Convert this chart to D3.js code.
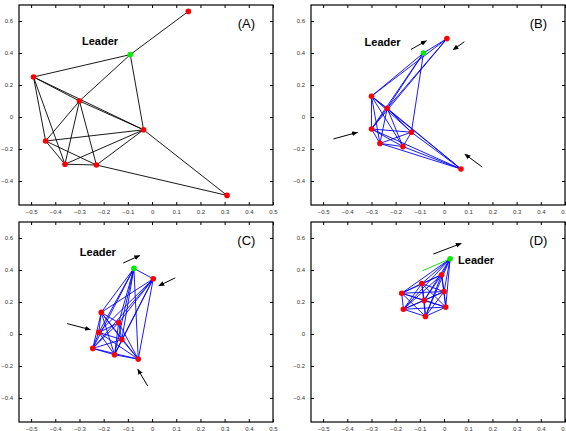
<!DOCTYPE html>
<meta charset="utf-8">
<head>
    <script type="text/javascript" src="https://cdn.jsdelivr.net/npm/d3@7/dist/d3.min.js"></script>
    <style>
        body { margin: 0; background: #fff; }
        svg { font-family: "Liberation Sans", Arial, Helvetica, sans-serif; }
        .tick text { fill: #333; font-size: 6px; }
    </style>
</head>
<body>
<div id="chart"></div>
<script>

    // node positions per panel, index 0 is the leader
    var nodesA = [[-0.09, 0.39], [0.15, 0.66], [-0.49, 0.25], [-0.30, 0.10], [-0.035, -0.08],
        [-0.44, -0.15], [-0.36, -0.295], [-0.23, -0.30], [0.31, -0.49]];
    var nodesB = [[-0.085, 0.40], [0.012, 0.49], [-0.30, 0.13], [-0.235, 0.055], [-0.30, -0.075],
        [-0.135, -0.095], [-0.265, -0.165], [-0.17, -0.185], [0.07, -0.325]];
    var nodesC = [[-0.075, 0.41], [0.005, 0.345], [-0.21, 0.135], [-0.138, 0.07], [-0.22, 0.01],
        [-0.125, -0.035], [-0.245, -0.09], [-0.155, -0.13], [-0.057, -0.157]];
    var nodesD = [[0.025, 0.47], [-0.01, 0.37], [-0.092, 0.315], [0, 0.265], [-0.175, 0.255],
        [-0.082, 0.21], [-0.168, 0.155], [0.007, 0.168], [-0.077, 0.11]];

    // edges (0 = leader)
    var edgesA = [[0, 1], [0, 3], [3, 5], [0, 2], [0, 4], [2, 3], [3, 4], [2, 4], [2, 5], [2, 6],
        [3, 6], [3, 7], [4, 5], [4, 6], [4, 7], [4, 8], [5, 6], [5, 7], [6, 7], [7, 8]];
    var edgesB = [[0, 1], [1, 2], [1, 3], [1, 4], [0, 2], [0, 3], [0, 4], [0, 5],
        [2, 3], [2, 4], [2, 5], [2, 6], [2, 7], [2, 8], [3, 4], [3, 5], [3, 6], [3, 7], [3, 8],
        [4, 5], [4, 6], [4, 7], [4, 8], [5, 6], [5, 7], [5, 8], [6, 7], [6, 8], [7, 8]];
    function allPairs(n) {
        var e = [];
        for (var i = 0; i < n; i++) for (var j = i + 1; j < n; j++) e.push([i, j]);
        return e;
    }
    var edgesC = allPairs(9);
    var edgesD = allPairs(9);

    // motion arrows [x1, y1, x2, y2]
    var arrowsA = [];
    var arrowsB = [[-0.137, 0.422, -0.073, 0.476], [0.084, 0.47, 0.037, 0.42],
        [-0.457, -0.137, -0.358, -0.096], [0.158, -0.313, 0.086, -0.232]];
    var arrowsC = [[-0.119, 0.444, -0.051, 0.49], [0.096, 0.351, 0.028, 0.301],
        [-0.351, 0.065, -0.255, 0.027], [-0.018, -0.325, -0.059, -0.22]];
    var arrowsD = [[-0.044, 0.50, 0.071, 0.566]];

    // leader trail in panel D
    var trailD = [[-0.09, 0.395], [0.025, 0.47]];

    var labels = ["(A)", "(B)", "(C)", "(D)"];
    var leaderPos = [[-0.215, 0.476, "middle"], [-0.254, 0.47, "middle"], [-0.224, 0.51, "middle"], [0.058, 0.459, "start"]];

    var xTicks = [-0.5, -0.4, -0.3, -0.2, -0.1, 0, 0.1, 0.2, 0.3, 0.4, 0.5];
    var yTicks = [-0.4, -0.2, 0, 0.2, 0.4, 0.6];

    var w = 566, h = 431;
    var svg = d3.select("#chart").append("svg").attr("width", w).attr("height", h);

    var panels = [
        {left: 19, top: 5, nodes: nodesA, edges: edgesA, arrows: arrowsA, color: "black", trail: null},
        {left: 311, top: 5, nodes: nodesB, edges: edgesB, arrows: arrowsB, color: "blue", trail: null},
        {left: 19, top: 222, nodes: nodesC, edges: edgesC, arrows: arrowsC, color: "blue", trail: null},
        {left: 311, top: 222, nodes: nodesD, edges: edgesD, arrows: arrowsD, color: "blue", trail: trailD}
    ];
    var pw = 254, ph = 200;

    svg.append("defs").append("marker")
        .attr("id", "ah").attr("viewBox", "0 0 10 10")
        .attr("refX", 9).attr("refY", 5)
        .attr("markerWidth", 6).attr("markerHeight", 6)
        .attr("orient", "auto")
        .append("path").attr("d", "M0,1 L10,5 L0,9 Z").attr("fill", "black");

    panels.forEach(function (p, k) {
        var g = svg.append("g").attr("transform", "translate(" + p.left + "," + p.top + ")");
        var x = d3.scaleLinear().domain([-0.55, 0.5]).range([0, pw]);
        var y = d3.scaleLinear().domain([-0.55, 0.7]).range([ph, 0]);

        // axes, MATLAB style box with inward ticks
        g.append("g").attr("class", "x axis").attr("transform", "translate(0," + ph + ")")
            .call(d3.axisBottom(x).tickValues(xTicks).tickSizeInner(-3).tickSizeOuter(0).tickPadding(5).tickFormat(d3.format("")));
        g.append("g").attr("transform", "translate(0,0)")
            .call(d3.axisTop(x).tickValues(xTicks).tickSizeInner(-3).tickSizeOuter(0).tickFormat(""));
        g.append("g").attr("class", "y axis")
            .call(d3.axisLeft(y).tickValues(yTicks).tickSizeInner(-3).tickSizeOuter(0).tickPadding(6).tickFormat(d3.format("")));
        g.append("g").attr("transform", "translate(" + pw + ",0)")
            .call(d3.axisRight(y).tickValues(yTicks).tickSizeInner(-3).tickSizeOuter(0).tickFormat(""));
        g.selectAll(".domain").remove();
        g.append("rect").attr("width", pw).attr("height", ph)
            .attr("fill", "none").attr("stroke", "black").attr("stroke-width", 1.2);

        // edges
        g.selectAll("line.edge").data(p.edges).enter().append("line")
            .attr("class", "edge")
            .attr("x1", d => x(p.nodes[d[0]][0])).attr("y1", d => y(p.nodes[d[0]][1]))
            .attr("x2", d => x(p.nodes[d[1]][0])).attr("y2", d => y(p.nodes[d[1]][1]))
            .attr("stroke", p.color === "blue" ? "#0000ff" : "black").attr("stroke-width", 0.9);

        if (p.trail) {
            g.append("path").datum(p.trail)
                .attr("d", d3.line().x(d => x(d[0])).y(d => y(d[1])))
                .attr("stroke", "#22dd22").attr("stroke-width", 1).attr("fill", "none");
        }

        // agents
        g.selectAll("circle.agent").data(p.nodes.slice(1)).enter().append("circle")
            .attr("cx", d => x(d[0])).attr("cy", d => y(d[1])).attr("r", 2.8)
            .attr("fill", "#ff0000");
        g.append("circle").attr("cx", x(p.nodes[0][0])).attr("cy", y(p.nodes[0][1])).attr("r", 2.8)
            .attr("fill", "#00ee00");

        // arrows
        g.selectAll("line.arrow").data(p.arrows).enter().append("line")
            .attr("x1", d => x(d[0])).attr("y1", d => y(d[1]))
            .attr("x2", d => x(d[2])).attr("y2", d => y(d[3]))
            .attr("stroke", "black").attr("stroke-width", 1)
            .attr("marker-end", "url(#ah)");

        // texts
        var lp = leaderPos[k];
        g.append("text").attr("x", x(lp[0])).attr("y", y(lp[1])).attr("dy", "0.35em")
            .attr("text-anchor", lp[2]).attr("font-size", 11).attr("font-weight", "bold")
            .text("Leader");
        g.append("text").attr("x", x(0.39)).attr("y", y(0.585)).attr("dy", "0.35em")
            .attr("text-anchor", "middle").attr("font-size", 13)
            .text(labels[k]);
    });
</script>
</body>
</html>
